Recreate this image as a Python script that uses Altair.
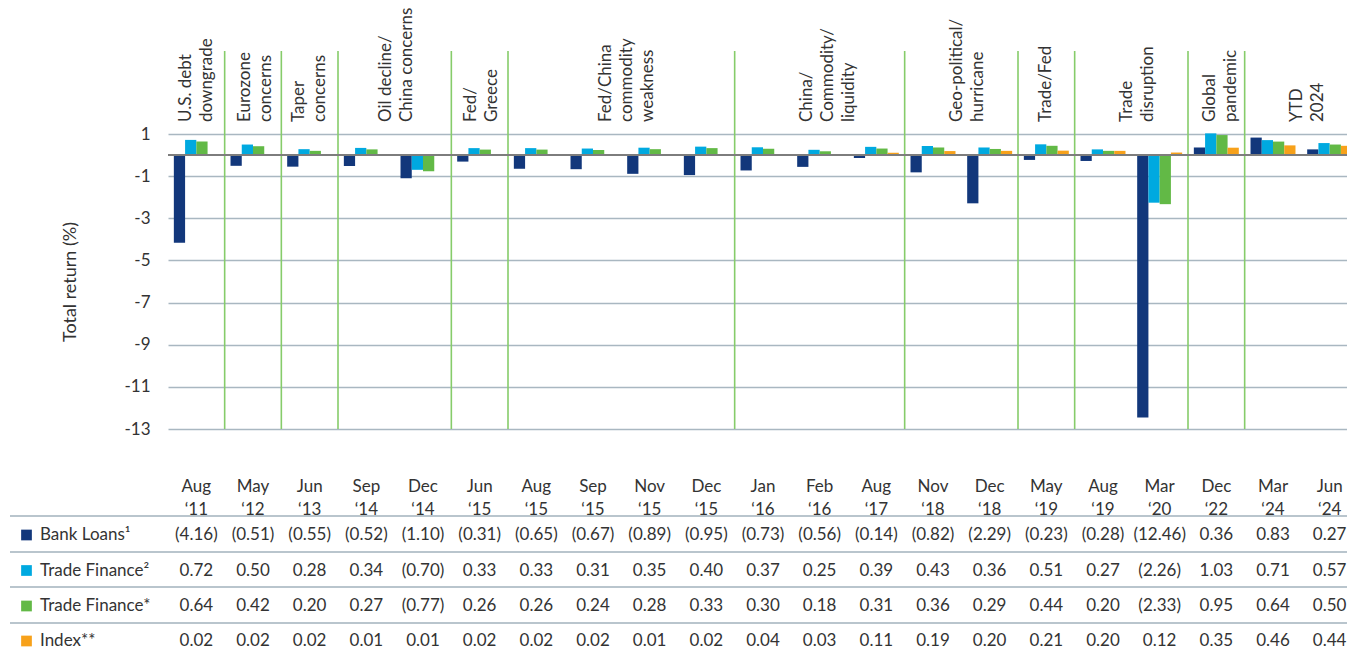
import altair as alt
import pandas as pd

# ---------------- data ----------------
months = ["Aug\n‘11", "May\n‘12", "Jun\n‘13", "Sep\n‘14", "Dec\n‘14", "Jun\n‘15", "Aug\n‘15",
          "Sep\n‘15", "Nov\n‘15", "Dec\n‘15", "Jan\n‘16", "Feb\n‘16", "Aug\n‘17", "Nov\n‘18",
          "Dec\n‘18", "May\n‘19", "Aug\n‘19", "Mar\n‘20", "Dec\n‘22", "Mar\n‘24", "Jun\n‘24"]

series = ["Bank Loans", "Trade Finance 2", "Trade Finance *", "Index **"]
series_labels = ["Bank Loans¹", "Trade Finance²", "Trade Finance*", "Index**"]

bank_loans = [-4.16, -0.51, -0.55, -0.52, -1.10, -0.31, -0.65, -0.67, -0.89, -0.95, -0.73,
              -0.56, -0.14, -0.82, -2.29, -0.23, -0.28, -12.46, 0.36, 0.83, 0.27]
trade_finance_2 = [0.72, 0.50, 0.28, 0.34, -0.70, 0.33, 0.33, 0.31, 0.35, 0.40, 0.37,
                   0.25, 0.39, 0.43, 0.36, 0.51, 0.27, -2.26, 1.03, 0.71, 0.57]
trade_finance_star = [0.64, 0.42, 0.20, 0.27, -0.77, 0.26, 0.26, 0.24, 0.28, 0.33, 0.30,
                      0.18, 0.31, 0.36, 0.29, 0.44, 0.20, -2.33, 0.95, 0.64, 0.50]
index_vals = [0.02, 0.02, 0.02, 0.01, 0.01, 0.02, 0.02, 0.02, 0.01, 0.02, 0.04,
              0.03, 0.11, 0.19, 0.20, 0.21, 0.20, 0.12, 0.35, 0.46, 0.44]

events = ["U.S. debt\ndowngrade", "Eurozone\nconcerns", "Taper\nconcerns",
          "Oil decline/\nChina concerns", "Fed/\nGreece", "Fed/China\ncommodity\nweakness",
          "China/\nCommodity/\nliquidity", "Geo-political/\nhurricane", "Trade/Fed",
          "Trade\ndisruption", "Global\npandemic", "YTD\n2024"]
event_pos = [0, 1.04, 2.0, 3.54, 5.04, 7.6, 11.14, 13.6, 15.0, 16.6, 18.07, 19.6]
separators = [0.5, 1.5, 2.5, 4.5, 5.5, 9.5, 12.5, 14.5, 15.5, 17.5, 18.5]
y_ticks = [1, -1, -3, -5, -7, -9, -11, -13]

colors = ["#12377b", "#00a9e0", "#62b946", "#f7a11a"]

# ---------------- tables ----------------
rows = []
for s, vals in zip(series, [bank_loans, trade_finance_2, trade_finance_star, index_vals]):
    for m, v in zip(months, vals):
        rows.append({"series": s, "period": m, "value": v})
df = pd.DataFrame(rows)
month_df = pd.DataFrame({"period": months})
event_df = pd.DataFrame({"event": events, "pos": event_pos})
sep_df = pd.DataFrame({"pos": separators})
label_df = pd.DataFrame({"series": series, "label": series_labels})
dummy = pd.DataFrame({"a": [0]})

# ---------------- layout / style ----------------
FONT = "Lato"
TXT = "#333333"
FS = 17
W, H = 1179, 295
STEP = 1190 / 21
XRANGE = [0, 1190]
EV_LH = 21
row_y = [401, 436.5, 472, 507]
line_y = [382, 418, 453, 489]

band_scale = alt.Scale(domain=months, range=XRANGE, paddingInner=0, paddingOuter=0)
quant_scale = alt.Scale(domain=[-0.5, 20.5], range=XRANGE, nice=False, zero=False)
y_scale = alt.Scale(domain=[-13, 1], nice=False, zero=False)
color_scale = alt.Scale(domain=series, range=colors)

XB = alt.X("period:N", sort=months, scale=band_scale, axis=None)

bars = alt.Chart(df).mark_bar().encode(
    x=XB,
    xOffset=alt.XOffset("series:N", sort=series,
                        scale=alt.Scale(domain=series, paddingInner=0, paddingOuter=0.52)),
    y=alt.Y("value:Q", stack=None, scale=y_scale,
            axis=alt.Axis(values=y_ticks, grid=True, gridColor="#a9b7c1", gridWidth=1.6,
                          domain=False, ticks=False, labelPadding=18, labelFont=FONT,
                          labelFontSize=FS, labelColor=TXT, labelExpr="'' + datum.value",
                          title="Total return (%)", titleFont=FONT, titleFontSize=18,
                          titleFontWeight="normal", titleColor=TXT, titleAngle=270,
                          titleX=-98, titleY=147.5, titleAlign="center",
                          titleBaseline="middle")),
    color=alt.Color("series:N", scale=color_scale, legend=None),
)

zero_rule = alt.Chart(dummy).mark_rule(color="#7d7d7d", strokeWidth=2).encode(
    y=alt.Y(datum=0, type="quantitative", scale=y_scale),
)

seps = alt.Chart(sep_df).mark_rule(color="#86cc6a", strokeWidth=1.6).encode(
    x=alt.X("pos:Q", scale=quant_scale, axis=None), y=alt.value(-83), y2=alt.value(H),
)

# multi-line rotated labels: shift so the block of lines is centred on its position
event_text = alt.Chart(event_df).transform_calculate(
    nlines="split(datum.event, '\\n').length",
    xpos=f"datum.pos - (datum.nlines - 1) * {EV_LH / 2} / {STEP}",
).mark_text(
    angle=270, align="left", baseline="middle", lineBreak="\n", lineHeight=EV_LH,
    font=FONT, fontSize=FS, color=TXT,
).encode(x=alt.X("xpos:Q", scale=quant_scale, axis=None), y=alt.value(-12),
         text="event:N")

month_text = alt.Chart(month_df).mark_text(
    baseline="middle", lineBreak="\n", lineHeight=23, font=FONT, fontSize=FS, color=TXT,
).encode(x=XB, y=alt.value(352.5), text="period:N")

layers = [seps, bars, zero_rule, event_text, month_text]

for ly in line_y:
    layers.append(
        alt.Chart(dummy).mark_rule(color="#b9c5cd", strokeWidth=2).encode(
            x=alt.value(-158), x2=alt.value(W), y=alt.value(ly))
    )

for i, s in enumerate(series):
    layers.append(
        alt.Chart(df).transform_filter(alt.datum.series == s).transform_calculate(
            label="datum.value < 0 ? '(' + format(-datum.value, '.2f') + ')' : format(datum.value, '.2f')"
        ).mark_text(baseline="middle", font=FONT, fontSize=FS, color=TXT).encode(
            x=XB, y=alt.value(row_y[i]), text="label:N")
    )
    sub = label_df[label_df.series == s]
    layers.append(
        alt.Chart(sub).mark_text(align="left", baseline="middle", font=FONT, fontSize=FS,
                                 color=TXT).encode(
            x=alt.value(-128), y=alt.value(row_y[i]), text="label:N")
    )
    layers.append(
        alt.Chart(sub).mark_square(size=115, opacity=1).encode(
            x=alt.value(-141.5), y=alt.value(row_y[i]),
            color=alt.Color("series:N", scale=color_scale, legend=None))
    )

chart = alt.layer(*layers).resolve_scale(x="independent").properties(
    width=W, height=H,
    autosize=alt.AutoSizeParams(type="none"),
    padding={"left": 168, "top": 134, "right": 0, "bottom": 223},
    background="white",
).configure_view(stroke=None)

chart.save("out.html", embed_options={"renderer": "svg", "actions": False})
